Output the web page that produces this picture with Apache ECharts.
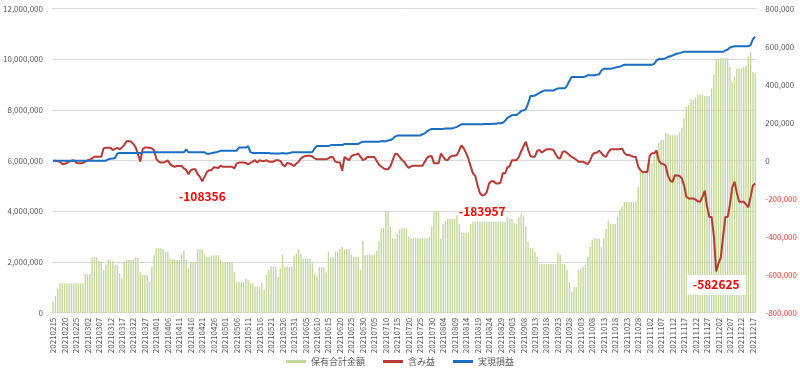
<!DOCTYPE html>
<html><head><meta charset="utf-8">
<script src="https://cdn.jsdelivr.net/npm/echarts@6/dist/echarts.min.js"></script>
<style>html,body{margin:0;padding:0;background:#fff}#c{width:800px;height:375px}</style>
</head><body><div id="c"></div>
<script>
// Category range (calendar days, one per category)
const startDate = '2021-02-15';
const dayCount = 307;

// 保有合計金額 (left axis)
const holdings = [
430000,660000,950000,1160000,1160000,1160000,1160000,1160000,1160000,1160000,
1160000,1160000,1160000,1160000,1530000,1530000,1530000,2180000,2200000,2180000,
2050000,2000000,1680000,1900000,2100000,2050000,2050000,1880000,1880000,1550000,
1350000,2000000,2080000,2080000,2080000,2100000,2180000,2150000,1600000,1500000,
1490000,1490000,1220000,1800000,2280000,2540000,2540000,2540000,2500000,2410000,
2410000,2140000,2100000,2080000,2080000,2080000,2300000,2450000,2100000,1750000,
1990000,1990000,1990000,2500000,2500000,2500000,2300000,2210000,2210000,2260000,
2260000,2260000,2260000,2100000,1990000,1990000,1990000,1990000,1990000,1600000,
1220000,1220000,1220000,1220000,1350000,1300000,1160000,1160000,1030000,1030000,
1030000,1160000,900000,1500000,1700000,1820000,1820000,1820000,1420000,1750000,
2300000,1820000,1820000,1800000,1820000,2240000,2340000,2500000,2340000,2140000,
2140000,2140000,2140000,1950000,1550000,1420000,1790000,1790000,1790000,1600000,
2410000,2180000,2180000,2410000,2410000,2500000,2600000,2500000,2500000,2500000,
2300000,2210000,2210000,2210000,1700000,2840000,2280000,2280000,2280000,2280000,
2280000,2450000,2800000,3330000,3350000,4000000,4000000,3400000,2930000,2930000,
3130000,3300000,3330000,3330000,3330000,3000000,2930000,2930000,2930000,2930000,
2930000,2930000,2930000,2930000,3000000,3400000,4000000,4000000,4000000,2930000,
3500000,3600000,3700000,3700000,3700000,3700000,3860000,3500000,3160000,3160000,
3160000,3160000,3500000,3590000,3590000,3590000,3590000,3590000,3590000,3590000,
3590000,3590000,3590000,3590000,3590000,3590000,3590000,3590000,3790000,3700000,
3700000,3550000,3500000,3750000,3920000,3800000,3400000,2800000,2540000,2540000,
2400000,2200000,1920000,1920000,1920000,1920000,1920000,1920000,1920000,1920000,
2370000,2300000,1920000,1920000,1700000,1200000,830000,1030000,1000000,1680000,
1750000,1820000,1880000,2200000,2600000,2870000,2930000,2930000,2930000,2600000,
2950000,3300000,3630000,3500000,3500000,3500000,3800000,4050000,4200000,4380000,
4380000,4380000,4380000,4380000,4380000,4970000,5570000,5570000,5570000,5900000,
5900000,5900000,6200000,6350000,6700000,6820000,6820000,7100000,7050000,7000000,
7000000,7000000,7000000,7100000,7300000,7700000,8130000,8200000,8420000,8420000,
8500000,8600000,8600000,8600000,8550000,8550000,8550000,8850000,9400000,10000000,
10000000,10040000,10040000,10040000,10040000,9700000,9100000,9300000,9640000,9640000,
9640000,9700000,9750000,10100000,10300000,9500000,9450000
];

// 含み益 (right axis)
const unrealized = [
0,0,-3000,-5000,-17000,-17000,-12000,-5000,0,2000,
-10000,-14000,-14000,-12000,-5000,2000,5000,12000,21000,21000,
21000,21000,65000,68000,68000,68000,56000,62000,68000,60000,
70000,82000,102000,104000,100000,88000,70000,35000,-5000,60000,
70000,70000,68000,65000,55000,10000,-5000,-10000,-10000,-5000,
2000,-18000,-28000,-32000,-28000,-28000,-28000,-40000,-48000,-72000,
-50000,-45000,-45000,-70000,-85000,-108356,-85000,-60000,-50000,-50000,
-35000,-36000,-38000,-26000,-32000,-32000,-32000,-32000,-32000,-40000,
-15000,-10000,-10000,-10000,-12000,-18000,-12000,-5000,3000,-10000,
3000,-2000,-2000,3000,-5000,-5000,-5000,3000,2000,0,
-20000,-30000,-12000,-15000,-20000,-28000,-15000,-5000,12000,20000,
25000,26000,26000,22000,12000,8000,7000,7000,7000,7000,
12000,20000,18000,-5000,-8000,-10000,-53000,20000,10000,3000,
24000,30000,32000,38000,20000,3000,8000,20000,20000,20000,
20000,0,-20000,-30000,-40000,-45000,-45000,-30000,3000,35000,
35000,20000,5000,-5000,-25000,-38000,-30000,-27000,-26000,-26000,
-26000,-26000,-5000,15000,24000,24000,-14000,-14000,-14000,38000,
20000,5000,3000,20000,26000,26000,30000,55000,80000,65000,
40000,10000,-30000,-68000,-80000,-130000,-170000,-183957,-180000,-165000,
-120000,-108000,-108000,-120000,-120000,-115000,-65000,-68000,-35000,-28000,
3000,3000,3000,20000,50000,75000,100000,60000,25000,21000,
21000,53000,56000,42000,52000,60000,60000,60000,56000,35000,
14000,12000,45000,50000,40000,30000,20000,14000,5000,-5000,
-5000,-5000,-12000,-18000,0,30000,42000,42000,53000,40000,
25000,20000,45000,60000,60000,60000,60000,60000,65000,40000,
30000,30000,25000,21000,20000,-30000,-50000,-60000,-60000,-60000,
25000,39000,39000,54000,0,-15000,-18000,-28000,-80000,-105000,
-112000,-76000,-78000,-80000,-92000,-130000,-190000,-199000,-199000,-199000,
-205000,-214000,-216000,-190000,-157000,-240000,-296000,-296000,-400000,-582625,
-540000,-510000,-400000,-296000,-296000,-230000,-140000,-110000,-170000,-216000,
-216000,-216000,-230000,-245000,-190000,-130000,-120000
];

// 実現損益 (right axis)
const realized = [
0,0,0,0,0,0,0,0,0,0,
0,0,0,0,0,0,0,0,0,0,
0,0,0,0,7000,10000,12000,14000,38000,40000,
40000,40000,40000,40000,40000,40000,40000,40000,40000,44000,
44000,44000,44000,44000,44000,44000,44000,44000,44000,44000,
44000,44000,44000,44000,44000,44000,44000,44000,60000,44000,
44000,44000,44000,44000,44000,44000,44000,36000,36000,40000,
42000,44000,48000,53000,53000,53000,53000,53000,53000,53000,
53000,69000,69000,69000,69000,77000,45000,40000,40000,40000,
40000,40000,40000,40000,40000,38000,38000,38000,38000,38000,
40000,38000,38000,40000,44000,44000,44000,44000,44000,44000,
44000,44000,44000,46000,65000,77000,77000,77000,77000,77000,
77000,82000,82000,82000,82000,82000,82000,88000,88000,88000,
88000,88000,88000,88000,95000,100000,100000,100000,100000,100000,
100000,100000,100000,103000,103000,103000,106000,109000,115000,127000,
132000,132000,132000,132000,132000,132000,132000,132000,132000,132000,
132000,140000,144000,155000,162000,167000,167000,167000,167000,167000,
167000,170000,170000,170000,170000,174000,178000,185000,192000,192000,
192000,192000,192000,192000,192000,192000,192000,192000,193000,193000,
193000,193000,194000,194000,197000,197000,200000,210000,225000,232000,
240000,240000,240000,250000,262000,265000,270000,300000,341000,341000,
343000,350000,357000,364000,369000,369000,369000,369000,369000,375000,
380000,381000,381000,381000,395000,420000,440000,440000,440000,440000,
440000,440000,443000,450000,450000,450000,450000,452000,455000,475000,
484000,484000,484000,484000,486000,490000,493000,495000,500000,505000,
505000,505000,505000,505000,505000,505000,505000,505000,505000,505000,
505000,505000,510000,528000,535000,535000,535000,540000,546000,550000,
554000,559000,564000,566000,570000,573000,573000,573000,573000,573000,
573000,573000,573000,573000,573000,573000,573000,573000,573000,573000,
573000,573000,573000,580000,585000,596000,600000,602000,602000,602000,
602000,602000,602000,602000,610000,640000,652000
];

// Axis ticks
const leftTicks = {min: 0, max: 12000000, step: 2000000};
const rightTicks = {min: -800000, max: 800000, step: 200000};
// Annotated points (category index of labelled local minima)
const noteIdx = [65, 187, 289];

const categories = [];
(function(){
  const d = new Date(startDate + 'T00:00:00');
  for (let i = 0; i < dayCount; i++) {
    const y = d.getFullYear(), m = String(d.getMonth()+1).padStart(2,'0'), dd = String(d.getDate()).padStart(2,'0');
    categories.push(y + m + dd);
    d.setDate(d.getDate()+1);
  }
})();

const fmt = v => Number(v).toLocaleString('en-US');
const FONT = '"Noto Sans CJK JP", "Noto Sans", sans-serif';

const chart = echarts.init(document.getElementById('c'), null, {renderer:'canvas'});
chart.setOption({
  animation: false,
  textStyle: {fontFamily: FONT},
  grid: {left: 51, right: 43.5, top: 8.7, bottom: 62.3, containLabel: false},
  legend: {
    bottom: 4, left: 'center', itemWidth: 20, itemHeight: 3, itemGap: 18,
    textStyle: {fontSize: 9, color: '#595959', fontFamily: FONT},
    data: [{name:'保有合計金額', icon:'rect'}, {name:'含み益', icon:'rect'}, {name:'実現損益', icon:'rect'}]
  },
  xAxis: {
    type: 'category', data: categories, boundaryGap: true,
    axisLine: {show: true, lineStyle: {color: '#d9d9d9'}},
    axisTick: {show: false},
    axisLabel: {interval: 4, rotate: 90, fontSize: 8, color: '#595959', margin: 5, fontFamily: FONT}
  },
  yAxis: [
    {type: 'value', min: leftTicks.min, max: leftTicks.max, interval: leftTicks.step,
     axisLine: {show: false}, axisTick: {show: false},
     splitLine: {lineStyle: {color: '#d9d9d9'}},
     axisLabel: {fontSize: 8, color: '#595959', margin: 9, formatter: fmt, fontFamily: FONT}},
    {type: 'value', min: rightTicks.min, max: rightTicks.max, interval: rightTicks.step,
     axisLine: {show: false}, axisTick: {show: false}, splitLine: {show: false},
     axisLabel: {fontSize: 8, margin: 9, formatter: fmt, fontFamily: FONT,
       color: v => (Number(v) < 0 ? '#ff3333' : '#595959')}}
  ],
  series: [
    {name: '保有合計金額', type: 'bar', yAxisIndex: 0, data: holdings,
     barCategoryGap: '40%', itemStyle: {color: '#c4d79b'}, z: 1},
    {name: '含み益', type: 'line', yAxisIndex: 1, data: unrealized,
     showSymbol: false, symbol: 'none', lineStyle: {color: '#b93a35', width: 2}, itemStyle: {color: '#b93a35'}, z: 3,
     markPoint: {
       symbol: 'circle', symbolSize: 1, itemStyle: {color: 'rgba(0,0,0,0)'},
       data: noteIdx.map((ix, k) => ({
         coord: [ix, unrealized[ix]], value: unrealized[ix],
         label: Object.assign({show: true, position: 'bottom', distance: 9, color: '#ff0000', fontWeight: 'bold', fontSize: 12, fontFamily: FONT,
           formatter: String(unrealized[ix])}, k === 2 ? {backgroundColor: '#ffffff', padding: [4, 6], distance: 3} : {})
       }))
     }},
    {name: '実現損益', type: 'line', yAxisIndex: 1, data: realized,
     showSymbol: false, symbol: 'none', lineStyle: {color: '#1a6fc4', width: 2}, itemStyle: {color: '#1a6fc4'}, z: 4}
  ]
});
</script></body></html>
